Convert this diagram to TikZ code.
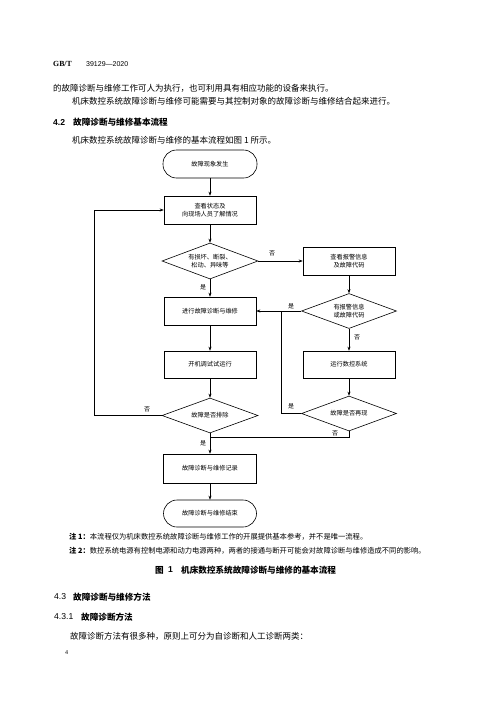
\documentclass[tikz,border=0pt]{standalone}
\usepackage{fontspec}
\setmainfont{Liberation Serif}
\setsansfont{Liberation Sans}
\newfontfamily\cjk{Noto Sans CJK SC}
\usetikzlibrary{shapes.geometric,arrows.meta}
\begin{document}
\begin{tikzpicture}[x=1pt,y=-1pt,
  box/.style={draw, line width=0.6pt, minimum width=92pt, minimum height=28pt, inner sep=0pt,
    font=\cjk\fontsize{6.2}{8.5}\selectfont, align=center},
  term/.style={box, rounded corners=13.5pt},
  dia/.style={diamond, draw, line width=0.6pt, aspect=2.7, minimum width=96pt, minimum height=36pt,
    inner sep=0pt, font=\cjk\fontsize{6.2}{8.5}\selectfont, align=center},
  flow/.style={line width=0.45pt, -{Stealth[length=4pt,width=3pt]}},
  conn/.style={line width=0.45pt},
  lab/.style={font=\cjk\fontsize{6}{6}\selectfont, inner sep=0pt},
  body/.style={anchor=west, inner sep=0pt, font=\cjk\fontsize{8.5}{10}\selectfont},
  head/.style={anchor=west, inner sep=0pt, font=\cjk\bfseries\fontsize{8.6}{10}\selectfont},
  num/.style={anchor=west, inner sep=0pt, font=\sffamily\fontsize{8.6}{10}\selectfont},
  note/.style={anchor=west, inner sep=0pt, font=\cjk\fontsize{7.3}{9}\selectfont},
]
\useasboundingbox (0,0) rectangle (500,707);

% page text
\node[anchor=west, inner sep=0pt, font=\bfseries\fontsize{7.8}{10}\selectfont] (hdr) at (53,64) {GB/T};
\node[anchor=west, inner sep=0pt, font=\sffamily\fontsize{7}{10}\selectfont] (hdrn) at (86,64) {39129—2020};
\node[body] (t1) at (53,88) {的故障诊断与维修工作可人为执行，也可利用具有相应功能的设备来执行。};
\node[body] (t2) at (72,101) {机床数控系统故障诊断与维修可能需要与其控制对象的故障诊断与维修结合起来进行。};
\node[num, font=\sffamily\bfseries\fontsize{8.6}{10}\selectfont] (h42n) at (53,122) {4.2};
\node[head] (h42) at (73,122) {故障诊断与维修基本流程};
\node[body] (t3) at (72,140) {机床数控系统故障诊断与维修的基本流程如图 1 所示。};

% flowchart nodes
\node[term, minimum width=94pt] (start) at (210,164) {故障现象发生};
\node[box] (b1) at (210,210) {查看状态及\\向现场人员了解情况};
\node[dia] (d1) at (210,261) {有损坏、断裂、\\松动、异味等};
\node[box] (b2) at (349,261) {查看报警信息\\及故障代码};
\node[box] (b3) at (210,311) {进行故障诊断与维修};
\node[dia, minimum width=95pt, minimum height=35pt] (d2) at (349,311) {有报警信息\\或故障代码};
\node[box, minimum height=27pt] (b4) at (210,364.5) {开机调试试运行};
\node[box, minimum height=27pt] (b5) at (349,364.5) {运行数控系统};
\node[dia, minimum height=35pt] (d3) at (210,415.5) {故障是否排除};
\node[dia, minimum width=95pt, minimum height=35pt] (d4) at (349,413.5) {故障是否再现};
\node[box, minimum width=93pt, minimum height=29pt] (b6) at (210,468.5) {故障诊断与维修记录};
\node[term, minimum width=93pt, minimum height=27pt] (end) at (210,513.5) {故障诊断与维修结束};

\coordinate (j1) at (281,311);
\coordinate (j2) at (210,437);
\coordinate (lp) at (94,415.5);

% connectors
\draw[flow] (start) -- (b1);
\draw[flow] (b1) -- (d1);
\draw[flow] (d1.east) -- (b2.west);
\draw[flow] (d1.south) -- (b3.north);
\draw[flow] (b2) -- (d2);
\draw[flow] (d2.west) -- (b3.east);
\draw[flow] (d2.south) -- (b5.north);
\draw[flow] (b3) -- (b4);
\draw[flow] (b5) -- (d4);
\draw[flow] (b4) -- (d3);
\draw[conn] (d4.west) -| (j1);
\draw[flow] (d3.west) -- (lp) |- (b1.west);
\draw[flow] (d3.south) -- (b6.north);
\draw[conn] (d4.south) |- (j2);
\draw[flow] (b6) -- (end);

% labels
\node[lab] (l1) at (272,253) {否};
\node[lab] (l2) at (203,287) {是};
\node[lab] (l3) at (291,306) {是};
\node[lab] (l4) at (357,337) {否};
\node[lab] (l5) at (291,406) {是};
\node[lab] (l6) at (147,409) {否};
\node[lab] (l7) at (335,433) {否};
\node[lab] (l8) at (203,443) {是};

% notes and caption
\node[note] (n1) at (69,537) {\textbf{注 1：}本流程仅为机床数控系统故障诊断与维修工作的开展提供基本参考，并不是唯一流程。};
\node[note] (n2) at (69,551) {\textbf{注 2：}数控系统电源有控制电源和动力电源两种，两者的接通与断开可能会对故障诊断与维修造成不同的影响。};
\node[head] (capa) at (155,570) {图};
\node[num, font=\sffamily\bfseries\fontsize{8.6}{10}\selectfont] (capb) at (168,570) {1};
\node[head] (cap) at (181,570) {机床数控系统故障诊断与维修的基本流程};

\node[num] (h43n) at (54,597) {4.3};
\node[head] (h43) at (73,597) {故障诊断与维修方法};
\node[num] (h431n) at (54,617) {4.3.1};
\node[head] (h431) at (81,617) {故障诊断方法};
\node[body] (t4) at (70,636) {故障诊断方法有很多种，原则上可分为自诊断和人工诊断两类：};
\node[anchor=west, inner sep=0pt, font=\fontsize{6}{7}\selectfont] (pg) at (65,653) {4};
\end{tikzpicture}
\end{document}
